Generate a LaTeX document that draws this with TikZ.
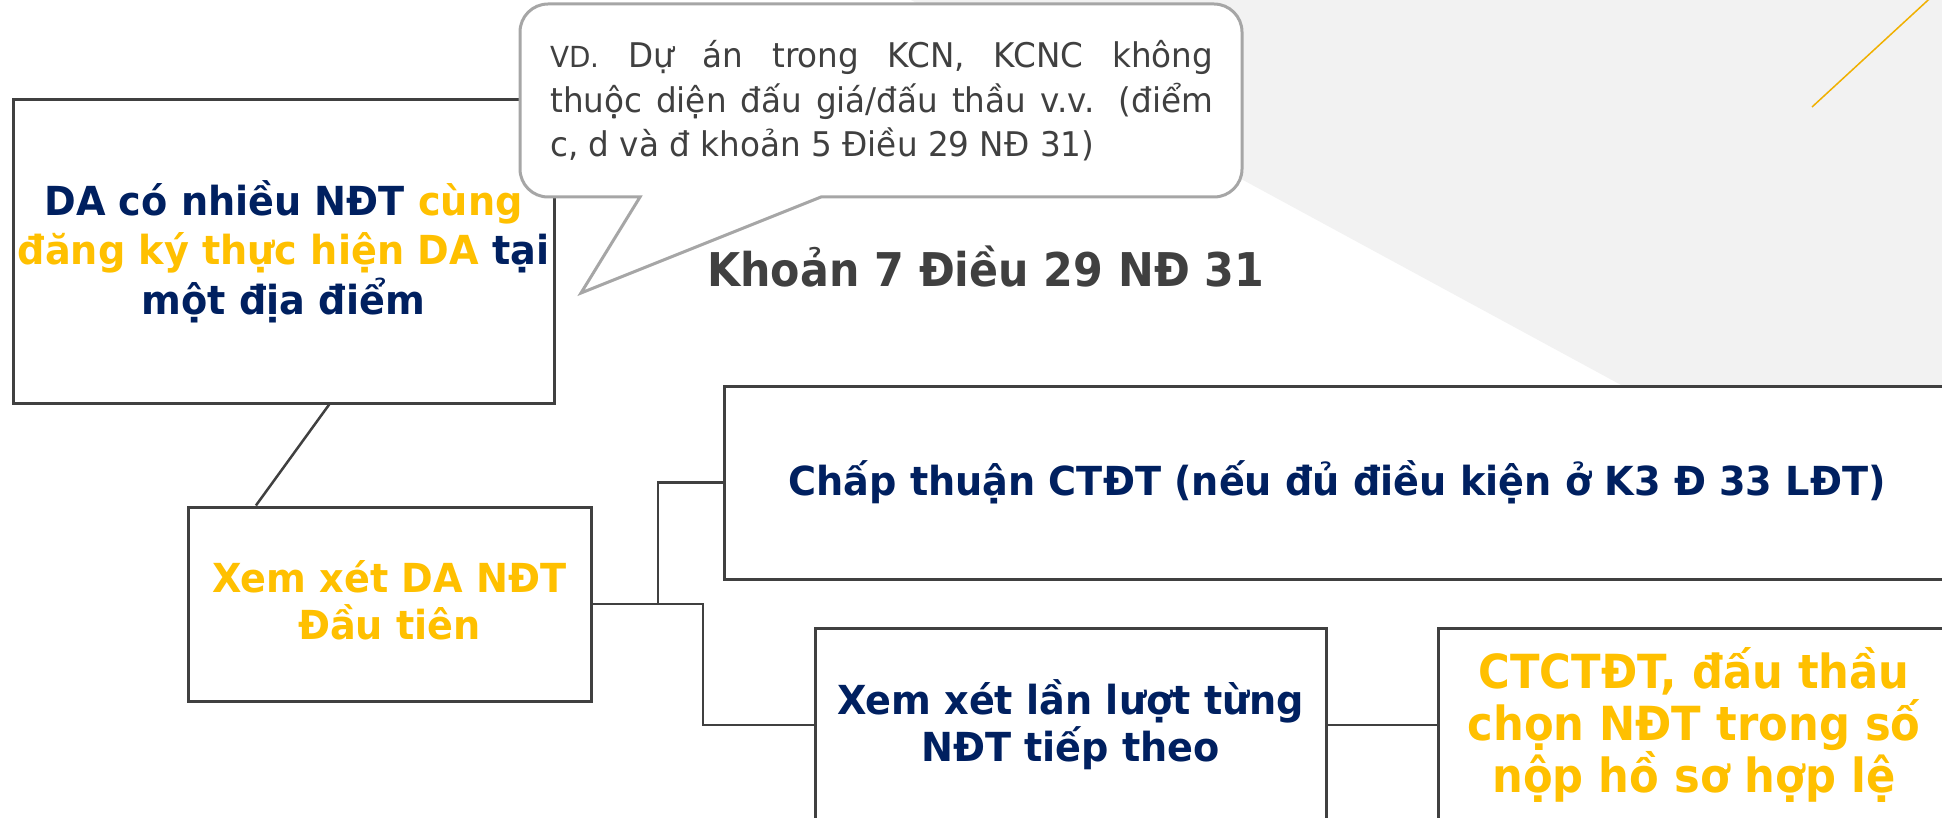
\documentclass[tikz,border=0pt]{standalone}
\usepackage{fontspec}
\setmainfont{DejaVu Sans}[FakeStretch=0.955]
\newfontfamily\headfont{DejaVu Sans}[FakeStretch=0.92]
\newfontfamily\notefont{DejaVu Sans}[FakeStretch=0.96]
\usetikzlibrary{calc}
\definecolor{navy}{HTML}{002060}
\definecolor{gold}{HTML}{FFC000}
\definecolor{ink}{HTML}{404040}
\definecolor{haze}{HTML}{F2F2F2}
\definecolor{bubble}{HTML}{A6A6A6}
\definecolor{accent}{HTML}{F0B000}
\tikzset{
  box/.style={draw=ink, line width=3pt, fill=white, inner sep=0pt, align=center,
    font=\bfseries\fontsize{40}{47}\selectfont},
  tallbox/.style={box, font=\bfseries\fontsize{40}{49.5}\selectfont},
  bigbox/.style={box, font=\headfont\bfseries\fontsize{47}{52}\selectfont},
  boxtext/.style={inner sep=0pt, align=center, font=\bfseries\fontsize{40}{47}\selectfont},
  link/.style={draw=ink, line width=2.5pt},
  notetext/.style={anchor=base west, inner sep=0pt, text=ink,
    font=\notefont\fontsize{34}{44}\selectfont},
  heading/.style={anchor=base west, inner sep=0pt, text=ink,
    font=\headfont\bfseries\fontsize{46.5}{54}\selectfont}
}
\begin{document}
\begin{tikzpicture}[x=1pt,y=-1pt]
\useasboundingbox (0,0) rectangle (1942,818);
\clip (0,0) rectangle (1942,818);

% light backdrop and accent stroke
\fill[haze] (911,0) -- (1942,0) -- (1942,559) -- cycle;
\draw[accent, line width=1.5pt] (1939,-10) -- (1812,107);

% boxes
\node[tallbox, minimum width=541pt, minimum height=303pt] (b1) at (283.5,251.5)
  {\textcolor{navy}{DA có nhiều NĐT} \textcolor{gold}{cùng}\\
   \textcolor{gold}{đăng ký thực hiện DA} \textcolor{navy}{tại}\\
   \textcolor{navy}{một địa điểm}};
\node[box, minimum width=403pt, minimum height=194pt] (b2) at (389.5,604) {};
\node[boxtext, text=gold] (b2t) at (389.5,600) {Xem xét DA NĐT\\Đầu tiên};
\node[box, text=navy, minimum width=1226pt, minimum height=193pt] (b3) at (1337,482.5)
  {Chấp thuận CTĐT (nếu đủ điều kiện ở K3 Đ 33 LĐT)};
\node[box, text=navy, minimum width=511pt, minimum height=194pt] (b4) at (1070.5,725)
  {Xem xét lần lượt từng\\NĐT tiếp theo};
\node[bigbox, text=gold, minimum width=512pt, minimum height=194pt] (b5) at (1694,725)
  {CTCTĐT, đấu thầu\\chọn NĐT trong số\\nộp hồ sơ hợp lệ};

% connectors
\coordinate (j1) at (658,604);
\coordinate (j2) at (703,604);
\draw[link] ($(b1.south west)!0.584!(b1.south east)$) -- ($(b2.north west)!0.171!(b2.north east)$);
\draw[link] (b2.east) -- (j1) |- (b3.west);
\draw[link] (j1) -- (j2) |- (b4.west);
\draw[link] (b4.east) -- (b5.west);

% speech bubble
\filldraw[fill=white, draw=bubble, line width=3pt]
  (821,197) -- (1000,197) [rounded corners=28pt] -- (1242,197) -- (1242,4)
  -- (520,4) -- (520,197) -- (600,197) [sharp corners] -- (640,197)
  -- (581,293) -- cycle;
\node[notetext] (n1) at (550,68)
  {\makebox[663pt][s]{{\fontsize{29}{44}\selectfont VD.} Dự án trong KCN, KCNC không}};
\node[notetext] (n2) at (550,113)
  {\makebox[663pt][s]{thuộc diện đấu giá/đấu thầu v.v. (điểm}};
\node[notetext] (n3) at (550,157)
  {c, d và đ khoản 5 Điều 29 NĐ 31)};

\node[heading] (h) at (707,287) {Khoản 7 Điều 29 NĐ 31};
\end{tikzpicture}
\end{document}
